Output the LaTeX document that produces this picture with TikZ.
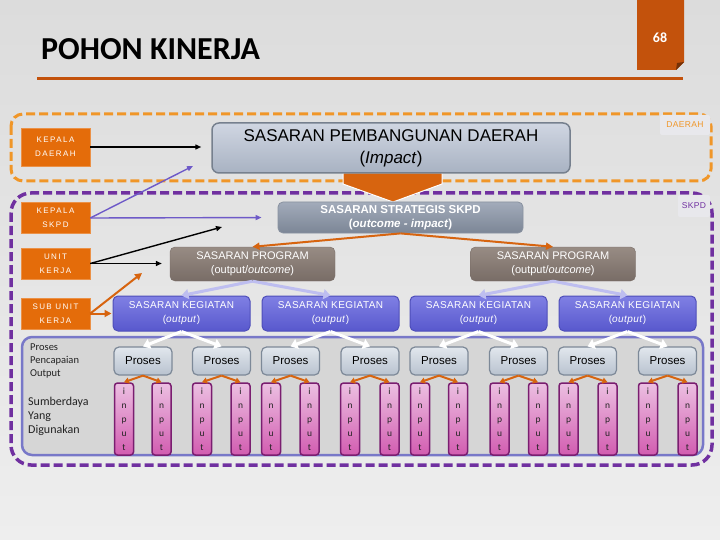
\documentclass[tikz,border=0pt]{standalone}
\usepackage{fontspec}
\setmainfont{Liberation Sans}
\newfontfamily\calib{Carlito}
\newfontfamily\spaced[LetterSpace=18]{Liberation Sans}
\newfontfamily\spacedb[LetterSpace=4]{Liberation Sans}
\usetikzlibrary{arrows.meta}
\definecolor{bgtop}{RGB}{220,220,220}
\definecolor{bgbot}{RGB}{238,238,238}
\definecolor{tabor}{RGB}{195,82,12}
\definecolor{rolor}{RGB}{228,108,10}
\definecolor{dashor}{RGB}{240,150,40}
\definecolor{dashpu}{RGB}{112,48,160}
\definecolor{blockor}{RGB}{215,100,15}
\definecolor{spdtop}{RGB}{208,214,226}
\definecolor{spdbot}{RGB}{168,178,194}
\definecolor{spdline}{RGB}{118,128,142}
\definecolor{sstop}{RGB}{162,171,186}
\definecolor{ssbot}{RGB}{124,134,150}
\definecolor{prtop}{RGB}{152,140,132}
\definecolor{prbot}{RGB}{120,108,102}
\definecolor{kgtop}{RGB}{128,128,228}
\definecolor{kgbot}{RGB}{88,88,205}
\definecolor{kgline}{RGB}{78,78,185}
\definecolor{inline}{RGB}{120,120,200}
\definecolor{infill}{RGB}{214,214,214}
\definecolor{pstop}{RGB}{226,231,237}
\definecolor{psbot}{RGB}{184,194,207}
\definecolor{psline}{RGB}{125,137,152}
\definecolor{ibtop}{RGB}{236,192,226}
\definecolor{ibbot}{RGB}{210,92,176}
\definecolor{ibline}{RGB}{122,30,112}
\definecolor{purarr}{RGB}{110,90,200}
\definecolor{lavarr}{RGB}{190,190,240}
\definecolor{labbg}{RGB}{232,232,236}
\definecolor{darktxt}{RGB}{35,35,35}
\tikzset{
  rolebox/.style={fill=rolor, draw=rolor!75!white, line width=0.6pt, text=white,
    font=\spaced\fontsize{8}{14}\selectfont, minimum width=69pt, align=center, inner sep=0pt},
  progbox/.style={rounded corners=5pt, top color=prtop, bottom color=prbot, draw=prbot,
    minimum width=165pt, minimum height=34pt, text=white, align=center,
    font=\fontsize{11}{14}\selectfont, inner sep=0pt},
  kegbox/.style={rounded corners=5pt, top color=kgtop, bottom color=kgbot, draw=kgline, line width=1pt,
    minimum width=137pt, minimum height=35pt, text=white, align=center,
    font=\spacedb\fontsize{10}{14}\selectfont, inner sep=0pt},
  prosbox/.style={rounded corners=5pt, top color=pstop, bottom color=psbot, draw=psline, line width=1.2pt,
    minimum width=58pt, minimum height=28pt, font=\fontsize{11.5}{13}\selectfont, inner sep=0pt},
  inbar/.style={rounded corners=3pt, top color=ibtop, bottom color=ibbot, draw=ibline, line width=1.5pt,
    minimum width=19pt, minimum height=72pt, inner sep=0pt, align=center, text=darktxt,
    font=\calib\fontsize{9.5}{14}\selectfont},
  blk/.style={draw=black, line width=1.4pt, -{Triangle[length=6pt,width=5pt]}},
  pur/.style={draw=purarr, line width=1.4pt, -{Triangle[length=6pt,width=5pt]}},
  ora/.style={draw=blockor, line width=2pt, -{Triangle[length=7pt,width=7pt]}},
  lav/.style={draw=lavarr, line width=3pt, -{Triangle[length=7pt,width=10pt]}},
  wht/.style={draw=white, line width=3pt, -{Triangle[length=7pt,width=10pt]}},
  sor/.style={draw=blockor, line width=2pt, -{Triangle[length=5pt,width=6pt]}},
  sidelab/.style={anchor=west, align=left, text=darktxt, inner sep=0pt}
}
\begin{document}
\begin{tikzpicture}[x=1pt,y=-1pt]
\useasboundingbox (0,0) rectangle (720,540);
\fill[top color=bgtop, bottom color=bgbot] (0,0) rectangle (720,540);

% title
\node[anchor=west, inner sep=0pt, font=\calib\bfseries\fontsize{32}{36}\selectfont] (title) at (41,49) {POHON KINERJA};
\fill[tabor] (637,0) -- (684,0) -- (684,62) -- (676,70) -- (637,70) -- cycle;
\fill[tabor!60!black] (684,62) -- (676,70) -- (677,63) -- cycle;
\node[text=white, font=\calib\bfseries\fontsize{14}{16}\selectfont] (num) at (660,38) {68};
\draw[tabor, line width=3pt] (37,79) -- (683,79);

% dashed regions
\draw[dashor, line width=3pt, dash pattern=on 9pt off 4pt, rounded corners=12pt] (11,114) rectangle (711,181);
\draw[dashpu, line width=3.5pt, dash pattern=on 9pt off 4pt, rounded corners=20pt] (11,193) rectangle (712,465);
\node[fill=labbg, rounded corners=2pt, minimum width=50pt, minimum height=20pt, inner sep=0pt,
  text=dashor, font=\spacedb\fontsize{8.5}{10}\selectfont] (dlab) at (685,125) {DAERAH};
\node[fill=labbg, rounded corners=2pt, minimum width=32pt, minimum height=22pt, inner sep=0pt,
  text=dashpu, font=\spacedb\fontsize{8.5}{10}\selectfont] (slab) at (694,206) {SKPD};

% inner box
\draw[draw=inline, line width=2.5pt, fill=infill, rounded corners=10pt] (22,337) rectangle (703,455);

% role boxes
\node[rolebox, minimum height=38pt] (kd) at (55.5,147) {KEPALA\\DAERAH};
\node[rolebox, minimum height=31pt] (ks) at (55.5,218) {KEPALA\\SKPD};
\node[rolebox, minimum height=31pt] (uk) at (55.5,263.5) {UNIT\\KERJA};
\node[rolebox, minimum height=31pt] (suk) at (55.5,313.5) {SUB UNIT\\KERJA};

% block arrow
\filldraw[fill=blockor, draw=white, line width=1pt] (343,173) -- (442,173) -- (442,184) -- (393,202) -- (343,184) -- cycle;

% main boxes
\node[rounded corners=7pt, top color=spdtop, bottom color=spdbot, draw=spdline, line width=1.5pt,
  minimum width=358pt, minimum height=50pt, align=center, inner sep=0pt,
  font=\fontsize{17}{22}\selectfont] (spd) at (391,148) {SASARAN PEMBANGUNAN DAERAH\\(\textit{Impact})};
\node[rounded corners=5pt, top color=sstop, bottom color=ssbot, draw=ssbot!90!white, line width=0.8pt,
  minimum width=245pt, minimum height=31pt, align=center, inner sep=0pt, text=white,
  font=\bfseries\fontsize{11.5}{14}\selectfont] (ss) at (400.5,217.5) {SASARAN STRATEGIS SKPD\\(\textit{outcome - impact})};

\node[progbox] (pl) at (252.5,264) {SASARAN PROGRAM\\(output/\textit{outcome})};
\node[progbox] (pr) at (553,264) {SASARAN PROGRAM\\(output/\textit{outcome})};

\node[kegbox] (k1) at (181.5,313.5) {SASARAN KEGIATAN\\(\textit{output})};
\node[kegbox] (k2) at (330.5,313.5) {SASARAN KEGIATAN\\(\textit{output})};
\node[kegbox] (k3) at (478.5,313.5) {SASARAN KEGIATAN\\(\textit{output})};
\node[kegbox] (k4) at (627.5,313.5) {SASARAN KEGIATAN\\(\textit{output})};

% side labels
\node[sidelab, font=\calib\fontsize{10.5}{13}\selectfont] (lp) at (30,361) {Proses\\Pencapaian\\Output};
\node[sidelab, font=\calib\fontsize{12}{14}\selectfont] (ls) at (28,416) {Sumberdaya\\Yang\\Digunakan};

% proses
\foreach \n/\x in {1/143,2/221.5,3/290.5,4/370,5/439,6/518.5,7/587.5,8/667.5}
  \node[prosbox] (p\n) at (\x,361) {Proses};

% inputs
\foreach \n/\x in {1/124,2/161.5,3/202,4/240.5,5/271,6/309.5,7/350,8/389.5,9/420,10/458,11/499.5,12/538,13/568.5,14/607.5,15/648,16/687.5}
  \node[inbar] (i\n) at (\x,419) {i\\n\\p\\u\\t};

% connectors from roles
\coordinate (ksfree) at (193,166);
\coordinate (ukfree) at (222,227);
\coordinate (sukfree) at (142,273);
\draw[blk, shorten >=10pt] (kd.east) -- (spd.west |- kd.east);
\draw[pur] (ks.east) -- (ksfree);
\draw[pur, shorten >=16pt] (ks.east) -- (ss.west);
\draw[blk] (uk.east) -- (ukfree);
\draw[blk, shorten >=8pt] (uk.east) -- (pl.west |- uk.east);
\draw[ora] (suk.east) -- (sukfree);
\draw[ora, shorten >=1pt] (suk.east) -- (k1.west);

% hierarchy connectors
\draw[ora] (ss.south) -- (pl.north);
\draw[ora] (ss.south) -- (pr.north);
\draw[lav] (pl.south) -- (k1.north);
\draw[lav] (pl.south) -- (k2.north);
\draw[lav] (pr.south) -- (k3.north);
\draw[lav] (pr.south) -- (k4.north);
\draw[wht] (k1.south) -- (p1.north);
\draw[wht] (k1.south) -- (p2.north);
\draw[wht] (k2.south) -- (p3.north);
\draw[wht] (k2.south) -- (p4.north);
\draw[wht] (k3.south) -- (p5.north);
\draw[wht] (k3.south) -- (p6.north);
\draw[wht] (k4.south) -- (p7.north);
\draw[wht] (k4.south) -- (p8.north);
\foreach \p/\a/\b in {1/1/2,2/3/4,3/5/6,4/7/8,5/9/10,6/11/12,7/13/14,8/15/16}{
  \draw[sor] (p\p.south) -- (i\a.north);
  \draw[sor] (p\p.south) -- (i\b.north);
}
\end{tikzpicture}
\end{document}
